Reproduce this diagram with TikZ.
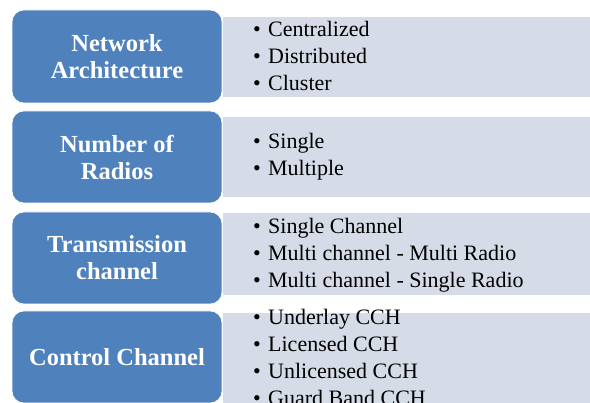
\documentclass[tikz,border=0pt]{standalone}
\usepackage{fontspec}
\setmainfont{Liberation Serif}
\definecolor{boxblue}{HTML}{4F81BD}
\definecolor{listgray}{HTML}{D5DCE8}
\begin{document}
\begin{tikzpicture}[x=1pt,y=-1pt,
  titlebox/.style={draw=white,line width=0.6pt,fill=boxblue,rounded corners=12pt,
    minimum width=210pt,inner sep=0pt,text=white,align=center,
    font=\fontsize{24.5}{27}\selectfont\bfseries},
  listbox/.style={fill=listgray,draw=none,inner sep=0pt,anchor=north west},
  item/.style={anchor=base west,inner sep=0pt,text=black,
    font=\fontsize{22}{27}\selectfont}]
\useasboundingbox (0,0) rectangle (590,403);
\clip (0,0) rectangle (590,403);
% list backgrounds
\node[listbox,minimum width=367pt,minimum height=80pt] (g1) at (223,17) {};
\node[listbox,minimum width=367pt,minimum height=80pt] (g2) at (223,117) {};
\node[listbox,minimum width=367pt,minimum height=82pt] (g3) at (223,213) {};
\node[listbox,minimum width=367pt,minimum height=100pt] (g4) at (223,313) {};
% title boxes
\node[titlebox,minimum height=93pt] (t1) at (117,56.5) {Network\\Architecture};
\node[titlebox,minimum height=92pt] (t2) at (117,157) {Number of\\Radios};
\node[titlebox,minimum height=92pt] (t3) at (117,258) {Transmission\\channel};
\node[titlebox,minimum height=92pt] (t4) at (117,357) {Control Channel};
% bullet items
\newcommand{\bl}{\makebox[15pt][l]{•}}
\node[item] (a1) at (253,37) {\bl Centralized};
\node[item] (a2) at (253,63.5) {\bl Distributed};
\node[item] (a3) at (253,90.5) {\bl Cluster};
\node[item] (b1) at (253,148.5) {\bl Single};
\node[item] (b2) at (253,176) {\bl Multiple};
\node[item] (c1) at (253,233.5) {\bl Single Channel};
\node[item] (c2) at (253,260.5) {\bl Multi channel - Multi Radio};
\node[item] (c3) at (253,287.5) {\bl Multi channel - Single Radio};
\node[item] (d1) at (253,325) {\bl Underlay CCH};
\node[item] (d2) at (253,352) {\bl Licensed CCH};
\node[item] (d3) at (253,378.5) {\bl Unlicensed CCH};
\node[item] (d4) at (253,405.5) {\bl Guard Band CCH};
\end{tikzpicture}
\end{document}
